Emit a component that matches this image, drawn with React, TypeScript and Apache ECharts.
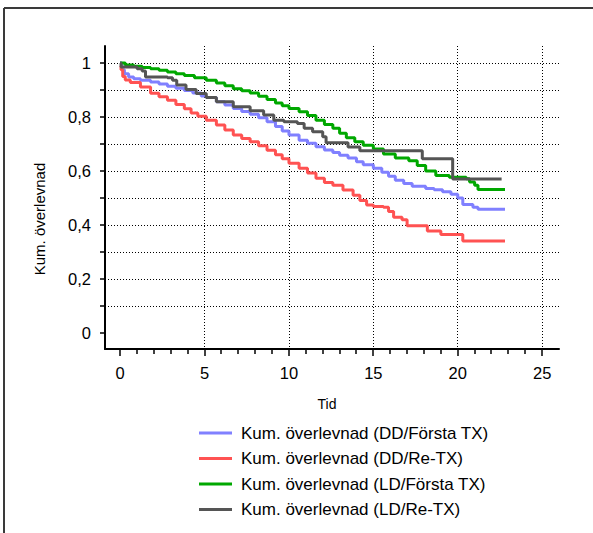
import React, { useEffect, useRef } from "react";
import * as echarts from "echarts";

const seriesNames = [
  "Kum. överlevnad (DD/Första TX)",
  "Kum. överlevnad (DD/Re-TX)",
  "Kum. överlevnad (LD/Första TX)",
  "Kum. överlevnad (LD/Re-TX)",
];
const seriesColors = ["#8080ff", "#ff5252", "#00a800", "#555555"];

const ddForsta: [number, number][] = [
  [0, 1.0], [0.1, 0.975], [0.25, 0.96], [0.5, 0.948], [0.8, 0.942], [1.2, 0.936],
  [1.8, 0.93], [2.3, 0.922], [2.8, 0.914], [3.3, 0.906], [3.8, 0.898], [4.3, 0.889],
  [4.8, 0.878], [5.1, 0.872], [5.7, 0.856], [6.2, 0.844], [6.7, 0.831], [7.2, 0.82],
  [7.7, 0.81], [8.2, 0.797], [8.7, 0.782], [9.2, 0.765], [9.6, 0.748], [10.0, 0.733],
  [10.6, 0.714], [11.1, 0.703], [11.6, 0.69], [12.1, 0.678], [12.6, 0.668], [13.0, 0.658],
  [13.5, 0.648], [14.0, 0.634], [14.4, 0.623], [15.0, 0.61], [15.5, 0.595], [15.9, 0.58],
  [16.3, 0.565], [16.8, 0.553], [17.3, 0.543], [18.1, 0.535], [18.6, 0.53], [19.1, 0.523],
  [19.6, 0.514], [20.0, 0.5], [20.3, 0.476], [20.9, 0.465], [21.2, 0.458], [22.8, 0.458],
];

const ddRe: [number, number][] = [
  [0, 0.99], [0.05, 0.975], [0.15, 0.95], [0.3, 0.937], [0.6, 0.928], [1.2, 0.911],
  [1.8, 0.888], [2.3, 0.875], [2.8, 0.862], [3.3, 0.846], [3.8, 0.83], [4.2, 0.815],
  [4.6, 0.803], [5.1, 0.788], [5.7, 0.77], [6.2, 0.752], [6.7, 0.733], [7.2, 0.72],
  [7.7, 0.708], [8.2, 0.693], [8.7, 0.677], [9.2, 0.66], [9.6, 0.645], [10.0, 0.628],
  [10.6, 0.61], [11.1, 0.592], [11.6, 0.573], [12.1, 0.557], [12.6, 0.547], [13.2, 0.529],
  [13.8, 0.51], [14.2, 0.49], [14.6, 0.474], [15.0, 0.468], [15.6, 0.465], [15.9, 0.45],
  [16.2, 0.428], [16.7, 0.419], [17.0, 0.397], [18.2, 0.377], [19.0, 0.364], [20.3, 0.34],
  [22.8, 0.34],
];

const ldForsta: [number, number][] = [
  [0, 1.0], [0.3, 0.993], [0.8, 0.988], [1.3, 0.983], [1.8, 0.979], [2.3, 0.973],
  [2.8, 0.967], [3.3, 0.96], [3.8, 0.954], [4.4, 0.945], [5.1, 0.936], [5.7, 0.926],
  [6.2, 0.916], [6.7, 0.905], [7.2, 0.897], [7.7, 0.889], [8.2, 0.877], [8.7, 0.865],
  [9.2, 0.852], [9.6, 0.842], [10.0, 0.831], [10.6, 0.819], [11.1, 0.805], [11.6, 0.788],
  [12.1, 0.772], [12.6, 0.758], [13.0, 0.74], [13.4, 0.723], [13.9, 0.708], [14.4, 0.695],
  [15.0, 0.681], [15.6, 0.663], [16.3, 0.648], [17.1, 0.638], [17.6, 0.62], [18.1, 0.6],
  [18.7, 0.583], [19.5, 0.577], [20.5, 0.571], [20.7, 0.559], [21.0, 0.547], [21.2, 0.531],
  [22.8, 0.531],
];

const ldRe: [number, number][] = [
  [0, 1.0], [0.05, 0.985], [1.0, 0.979], [1.3, 0.97], [1.5, 0.948], [2.8, 0.945],
  [3.1, 0.936], [3.35, 0.918], [3.9, 0.902], [4.5, 0.887], [5.1, 0.872], [5.7, 0.856],
  [6.7, 0.838], [7.7, 0.823], [8.5, 0.807], [9.1, 0.788], [9.7, 0.782], [10.5, 0.776],
  [10.9, 0.758], [11.4, 0.745], [12.0, 0.727], [12.2, 0.704], [13.5, 0.689], [14.2, 0.675],
  [17.9, 0.645], [19.7, 0.57], [22.6, 0.57],
];

const xMajorTicks = [0, 5, 10, 15, 20, 25];
const xAllTicks = [
  0, 1, 2, 3, 4, 5, 6, 7, 8, 9, 10, 11, 12, 13, 14, 15, 16, 17, 18, 19, 20, 21, 22, 23, 24, 25,
];
const yTicks = [0, 0.1, 0.2, 0.3, 0.4, 0.5, 0.6, 0.7, 0.8, 0.9, 1];
const yLabels = [0, 0.2, 0.4, 0.6, 0.8, 1];

const FONT = "'Liberation Sans', Arial, sans-serif";
const Y_MIN = -0.06;
const Y_MAX = 1.063;

export default function App() {
  const ref = useRef<HTMLDivElement>(null);
  useEffect(() => {
    document.body.style.margin = "0";
    if (!ref.current) return;
    const chart = echarts.init(ref.current, undefined, { renderer: "svg" });
    const dataSets = [ddForsta, ddRe, ldForsta, ldRe];
    const ySplitColors = yTicks.map((_, i) => (i === 0 ? "rgba(0,0,0,0)" : "#000"));
    const xSplitColors = xMajorTicks.map((_, i) => (i === 0 ? "rgba(0,0,0,0)" : "#000"));
    chart.setOption({
      animation: false,
      backgroundColor: "#fff",
      textStyle: { fontFamily: FONT, color: "#000" },
      grid: { left: 105, right: 34, top: 46, bottom: 184, containLabel: false },
      xAxis: {
        type: "value",
        min: -0.9,
        max: 26,
        position: "bottom",
        axisLine: { show: true, onZero: false, lineStyle: { color: "#000", width: 2 } },
        axisTick: { show: false, customValues: xMajorTicks },
        axisLabel: {
          show: true,
          customValues: xMajorTicks,
          margin: 15,
          fontSize: 16.5,
          color: "#000",
          fontFamily: FONT,
        },
        splitLine: {
          show: true,
          lineStyle: { color: xSplitColors, width: 1, type: [1, 2] },
        },
      },
      yAxis: {
        type: "value",
        min: Y_MIN,
        max: Y_MAX,
        position: "left",
        axisLine: { show: true, onZero: false, lineStyle: { color: "#000", width: 2 } },
        axisTick: {
          show: true,
          customValues: yTicks,
          length: 5,
          lineStyle: { color: "#000", width: 1.5 },
        },
        axisLabel: {
          show: true,
          customValues: yLabels,
          margin: 14,
          fontSize: 16.5,
          color: "#000",
          fontFamily: FONT,
          formatter: (v: number) => String(Math.round(v * 10) / 10).replace(".", ","),
        },
        splitLine: {
          show: true,
          lineStyle: { color: ySplitColors, width: 1, type: [1, 2] },
        },
      },
      legend: {
        orient: "vertical",
        left: 194,
        top: 419.5,
        icon: "rect",
        itemWidth: 33,
        itemHeight: 3,
        itemGap: 8.5,
        textStyle: { fontSize: 17, color: "#000", fontFamily: FONT, lineHeight: 16, padding: [0, 0, 0, 4] },
        data: seriesNames,
      },
      graphic: [
        {
          type: "line",
          shape: { x1: 4, y1: 8, x2: 593, y2: 8 },
          style: { stroke: "#3a3a3a", lineWidth: 2 },
        },
        {
          type: "line",
          shape: { x1: 4, y1: 8, x2: 4, y2: 533 },
          style: { stroke: "#3a3a3a", lineWidth: 2 },
        },
        {
          type: "text",
          x: 39,
          y: 219,
          rotation: Math.PI / 2,
          style: {
            text: "Kum. överlevnad",
            fontSize: 15,
            fontFamily: FONT,
            fill: "#000",
            align: "center",
            verticalAlign: "middle",
          },
        },
        {
          type: "text",
          x: 327,
          y: 404,
          style: {
            text: "Tid",
            fontSize: 14,
            fontFamily: FONT,
            fill: "#000",
            align: "center",
            verticalAlign: "middle",
          },
        },
      ],
      series: [
        ...dataSets.map((d, i) => ({
          name: seriesNames[i],
          type: "line",
          step: "end",
          symbol: "none",
          showSymbol: false,
          color: seriesColors[i],
          lineStyle: { color: seriesColors[i], width: 3 },
          data: d,
        })),
        {
          name: "xTicks",
          type: "custom",
          clip: false,
          silent: true,
          z: 10,
          data: xAllTicks.map((v) => [v, Y_MIN]),
          renderItem: (params: any, api: any) => {
            const v = api.value(0);
            const p = api.coord([v, Y_MIN]);
            const len = xMajorTicks.indexOf(v) >= 0 ? 7 : 5;
            return {
              type: "rect",
              shape: { x: Math.round(p[0]) - 0.75, y: p[1], width: 1.5, height: len },
              style: { fill: "#000", stroke: null },
            };
          },
        },
      ],
    });
    return () => chart.dispose();
  }, []);
  return <div ref={ref} style={{ width: 593, height: 533 }} />;
}
